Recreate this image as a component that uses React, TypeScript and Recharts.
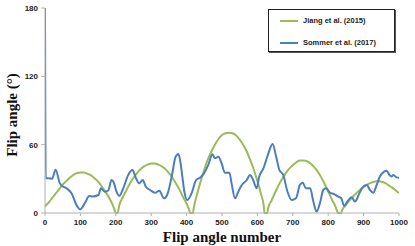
import React from "react";
import { LineChart, Line, XAxis, YAxis, Label } from "recharts";

const xTicks = [0, 100, 200, 300, 400, 500, 600, 700, 800, 900, 1000];
const yTicks = [0, 60, 120, 180];

const jiangX = [0,10,20,30,40,50,60,70,80,90,100,110,120,130,140,150,160,170,180,190,195,200,205,210,220,230,240,250,260,270,280,290,300,310,320,330,340,350,360,370,380,390,400,408,410,418,420,430,440,450,460,470,480,490,500,510,520,530,540,550,560,570,580,590,600,610,618,620,628,630,640,650,660,670,680,690,700,710,720,730,740,750,760,770,780,790,800,810,820,826,828,836,840,850,860,870,880,890,900,910,920,930,940,950,960,970,980,990,1000];
const jiangY = [6,9,13,17,21,25,28,31,33.5,35,35.5,35.5,34.5,33,30.5,27.5,23.5,19,14,8,4,0,0,7,14,20,26,31,35,38.5,41,42.5,43.5,43.5,42.5,41,38.5,35,31,26,20.5,14,8,2,0,0,4,17,28,38,47,54,60,65,68.5,70,70.5,70,68,64.5,60,54,46.5,38,28,17,6,0,0,4,11,18,24.5,30,35,39,42,44.5,46,46,45.5,43.5,40.5,36.5,31.5,25.5,19,12,6,1,0,0,3,7,11,14.5,17.5,20.5,23,25,26.5,27.5,28,27.5,26.5,24.5,22.5,20,17.5];

const sommerX = [0,2,10,20,30,42,52,61,75,89,99,113,125,135,151,158,169,179,188,194,202,210,221,235,247,257,266,276,285,297,311,323,336,345,358,369,377,383,388,393,402,414,427,438,449,461,473,480,490,499,508,521,527,537,546,556,570,579,588,598,605,617,631,643,653,662,673,685,697,709,720,728,737,749,758,767,777,786,794,805,816,829,837,845,854,866,876,888,899,909,918,927,937,946,958,965,973,979,984,993,1000];
const sommerY = [180,30.5,30.5,30,38,26,23,21.7,17.3,7,3.2,9,15,14.5,15.8,21.7,18.7,20,29,27,18.7,15,21.7,33.4,37.8,30.5,26,29,23,20.2,17.8,19.6,12.9,15.8,32,49.4,51.8,43.6,32,20,11.4,17.3,29,31,34.8,42,51.5,48,49.4,43.6,35.4,35.4,26,12.9,18.7,24.6,29,33.4,29,21.7,32,39.2,52.4,60.6,49.4,37.8,33.4,18.7,11.4,12.9,24.6,26.6,21.7,21.7,10,1.2,9,20.2,21.7,17.8,16.7,14.3,13,6.1,10,13.8,10,17.3,23,24.6,20.2,17.8,24.6,32,36.3,37.2,33.4,32,33.4,31.3,31];

const seriesNames = ["Jiang et al. (2015)", "Sommer et al. (2017)"];
const seriesColors = ["#9bbb59", "#4a7ebd"];

const jiangData = jiangX.map((x, i) => ({ x, v: jiangY[i] }));
const sommerData = sommerX.map((x, i) => ({ x, v: sommerY[i] }));

const tickStyle = { fontFamily: "'Liberation Sans', Arial, sans-serif", fontSize: 8, fontWeight: 700, fill: "#222" };
const titleFont = "'Liberation Serif', 'Times New Roman', serif";

const LegendBox = () => (
  <div
    style={{
      position: "absolute",
      left: 268,
      top: 9,
      width: 127,
      height: 43,
      border: "1px solid #222",
      boxShadow: "1px 1px 0 #555",
      background: "#fff",
      boxSizing: "border-box",
      fontFamily: "'Liberation Sans', Arial, sans-serif",
      fontSize: 7.5,
      fontWeight: 700,
      color: "#222",
    }}
  >
    {seriesNames.map((n, i) => (
      <div key={n} style={{ position: "absolute", left: 11, top: i === 0 ? 6 : 28, display: "flex", alignItems: "center", whiteSpace: "nowrap", lineHeight: "9px" }}>
        <span style={{ display: "inline-block", width: 18, height: 2, background: seriesColors[i], marginRight: 5 }} />
        <span>{n}</span>
      </div>
    ))}
  </div>
);

export default function App() {
  return (
    <div style={{ position: "absolute", left: 0, top: 0, width: 415, height: 246, background: "#fff" }}>
      <LineChart width={415} height={246} margin={{ top: 8, right: 16, bottom: 3, left: 0 }}>
        <XAxis
          dataKey="x"
          type="number"
          domain={[0, 1000]}
          ticks={xTicks}
          allowDataOverflow
          height={30}
          tick={tickStyle}
          tickSize={3}
          tickMargin={3}
          stroke="#b0b0b0"
          interval={0}
        >
          <Label
            content={() => (
              <text x={222} y={242} textAnchor="middle" fontFamily={titleFont} fontSize={15} fontWeight={700} fill="#111">
                Flip angle number
              </text>
            )}
          />
        </XAxis>
        <YAxis
          dataKey="v"
          type="number"
          domain={[0, 180]}
          ticks={yTicks}
          width={45}
          tick={tickStyle}
          tickSize={4}
          tickMargin={3}
          stroke="#b0b0b0"
          interval={0}
        >
          <Label
            content={() => (
              <text x={17} y={115} transform="rotate(-90 17 115)" textAnchor="middle" fontFamily={titleFont} fontSize={15} fontWeight={700} fill="#111">
                Flip angle (°)
              </text>
            )}
          />
        </YAxis>
        <Line
          data={jiangData}
          dataKey="v"
          name={seriesNames[0]}
          type="monotone"
          stroke={seriesColors[0]}
          strokeWidth={2}
          dot={false}
          isAnimationActive={false}
        />
        <Line
          data={sommerData}
          dataKey="v"
          name={seriesNames[1]}
          type="monotone"
          stroke={seriesColors[1]}
          strokeWidth={2}
          dot={false}
          isAnimationActive={false}
        />
      </LineChart>
      <LegendBox />
    </div>
  );
}
